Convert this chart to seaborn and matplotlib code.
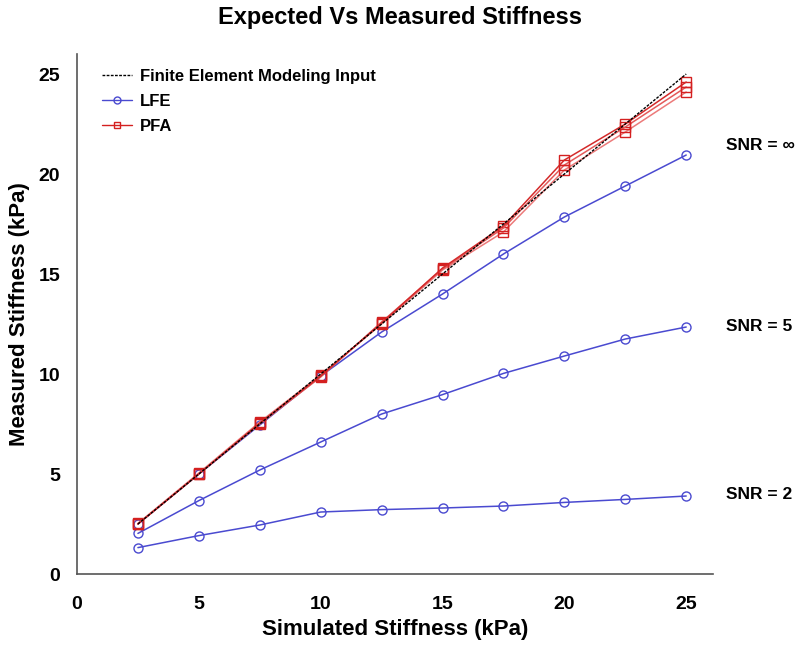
import matplotlib
matplotlib.use("Agg")
import matplotlib.pyplot as plt
import seaborn as sns
import pandas as pd
from matplotlib.lines import Line2D

sns.set_theme(style="white")
plt.rcParams['font.family'] = ['Liberation Sans', 'DejaVu Sans']
plt.rcParams['font.weight'] = 'bold'
plt.rcParams['text.color'] = 'black'
plt.rcParams['axes.labelcolor'] = 'black'
plt.rcParams['xtick.color'] = 'black'
plt.rcParams['ytick.color'] = 'black'

x = [2.5, 5, 7.5, 10, 12.5, 15, 17.5, 20, 22.5, 25]
fem_input = [2.5, 5, 7.5, 10, 12.5, 15, 17.5, 20, 22.5, 25]

lfe_inf = [2.5, 5.0, 7.45, 9.9, 12.1, 14.0, 16.0, 17.85, 19.4, 20.95]
lfe_5 = [2.03, 3.67, 5.2, 6.6, 8.0, 8.97, 10.03, 10.9, 11.75, 12.35]
lfe_2 = [1.32, 1.92, 2.45, 3.1, 3.22, 3.3, 3.4, 3.58, 3.73, 3.9]

pfa_inf = [2.5, 5.0, 7.55, 9.9, 12.55, 15.3, 17.4, 20.7, 22.5, 24.6]
pfa_5 = [2.5, 5.0, 7.5, 9.85, 12.6, 15.25, 17.3, 20.45, 22.35, 24.35]
pfa_2 = [2.53, 5.05, 7.6, 9.95, 12.5, 15.2, 17.1, 20.2, 22.1, 24.1]

snr_labels = ["SNR = \u221e", "SNR = 5", "SNR = 2"]
snr_label_y = [21.45, 12.4, 4.0]

fig = plt.figure(figsize=(8, 6.47), dpi=100)
ax = fig.add_axes([0.09625, 0.1128, 0.795, 0.8037])

blue = "#4a4ad0"
reds = ["#d42a2a", "#e45a5a", "#ec7a7a"]

for ys in [lfe_inf, lfe_5, lfe_2]:
    sns.lineplot(x=x, y=ys, ax=ax, color=blue, lw=1.1, marker="o", markersize=6.5,
                 markerfacecolor="none", markeredgecolor=blue, markeredgewidth=1.0)

for ys, c in zip([pfa_2, pfa_5, pfa_inf], reds[::-1]):
    sns.lineplot(x=x, y=ys, ax=ax, color=c, lw=1.1, marker="s", markersize=6.5,
                 markerfacecolor="none", markeredgecolor="#d42020", markeredgewidth=1.0)

sns.lineplot(x=x, y=fem_input, ax=ax, color="black", lw=1.0, linestyle=(0, (2, 1)))

ax.set_xlim(0, 26.1)
ax.set_ylim(0, 26)
ax.set_xticks([0, 5, 10, 15, 20, 25])
ax.set_yticks([0, 5, 10, 15, 20, 25])
for s in ["top", "right"]:
    ax.spines[s].set_visible(False)
for s in ["left", "bottom"]:
    ax.spines[s].set_color("#555555")
    ax.spines[s].set_linewidth(1.2)
ax.tick_params(axis="x", direction="in", length=6, width=1, color="#333333", pad=16, labelsize=14)
ax.tick_params(axis="y", direction="in", length=6, width=1, color="#333333", pad=12, labelsize=14)
for lab in ax.get_xticklabels() + ax.get_yticklabels():
    lab.set_fontweight("bold")

ax.set_xlabel("Simulated Stiffness (kPa)", fontsize=16, fontweight="bold", labelpad=4)
ax.set_ylabel("Measured Stiffness (kPa)", fontsize=16, fontweight="bold", labelpad=6)
fig.suptitle("Expected Vs Measured Stiffness", fontsize=17, fontweight="bold", x=0.5, y=0.99)

for lab, yv in zip(snr_labels, snr_label_y):
    ax.text(26.65, yv, lab, fontsize=12.5, fontweight="bold", va="center", ha="left", clip_on=False)

handles = [
    Line2D([0], [0], color="black", lw=1.0, linestyle=(0, (2, 1))),
    Line2D([0], [0], color=blue, lw=1.0, marker="o", markersize=5, markerfacecolor="none"),
    Line2D([0], [0], color="#d42020", lw=1.0, marker="s", markersize=5, markerfacecolor="none"),
]
ax.legend(handles, ["Finite Element Modeling Input", "LFE", "PFA"], loc="upper left",
          bbox_to_anchor=(0.015, 1.0), frameon=False, prop={"weight": "bold", "size": 12},
          handlelength=1.8, handletextpad=0.5, labelspacing=0.6)

fig.savefig("out.png", dpi=100)
